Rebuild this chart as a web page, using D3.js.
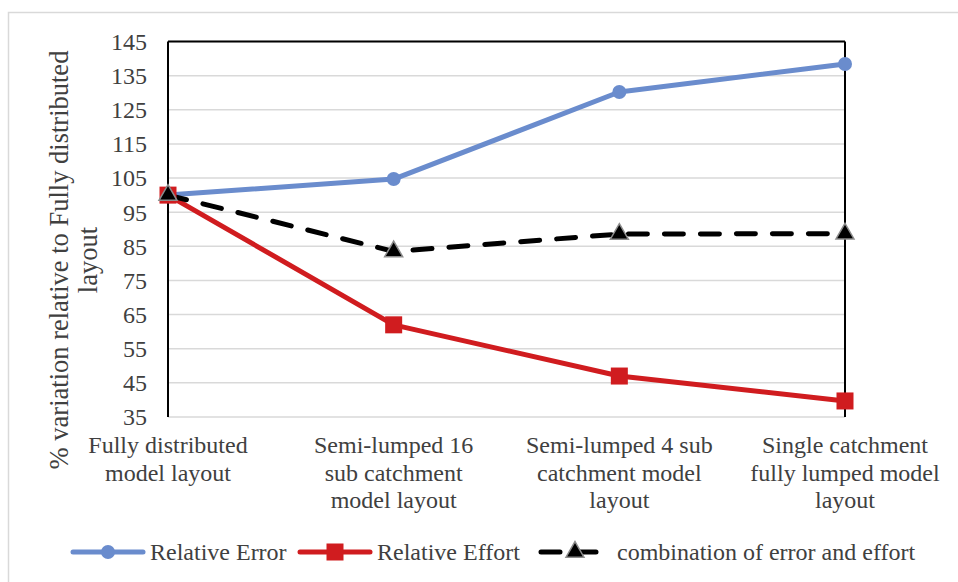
<!DOCTYPE html>
<html>
<head>
<meta charset="utf-8">
<script src="https://cdn.jsdelivr.net/npm/d3@7"></script>
<style>
  body { margin: 0; background: #fff; }
  text { font-family: "Liberation Serif", "Times New Roman", serif; fill: #404040; }
</style>
</head>
<body>
<script>
const categories = [
  "Fully distributed model layout",
  "Semi-lumped 16 sub catchment model layout",
  "Semi-lumped 4 sub catchment model layout",
  "Single catchment fully lumped model layout"
];
// label lines as wrapped in the original
const categoryLines = [
  ["Fully distributed", "model layout"],
  ["Semi-lumped 16", "sub catchment", "model layout"],
  ["Semi-lumped 4 sub", "catchment model", "layout"],
  ["Single catchment", "fully lumped model", "layout"]
];
const relativeError = [100, 104.7, 130.2, 138.4];
const relativeEffort = [100, 62, 47, 39.7];
const combination = [100, 83.5, 88.6, 88.7];
const yTicks = [35, 45, 55, 65, 75, 85, 95, 105, 115, 125, 135, 145];

const width = 958, height = 582;
const svg = d3.select("body").append("svg")
  .attr("width", width).attr("height", height);

// chart frame
svg.append("rect")
  .attr("x", 8.5).attr("y", 12.5).attr("width", 980).attr("height", 600)
  .attr("fill", "none").attr("stroke", "#d9d9d9").attr("stroke-width", 1.5);

const x = d3.scalePoint().domain(categories).range([168, 845]);
const y = d3.scaleLinear().domain([35, 145]).range([417, 41.5]);

// gridlines
svg.append("g")
  .selectAll("line")
  .data(yTicks)
  .enter().append("line")
  .attr("x1", 168).attr("x2", 845)
  .attr("y1", d => y(d)).attr("y2", d => y(d))
  .attr("stroke", "#d9d9d9").attr("stroke-width", 1.5);

// black borders: left axis, top, right
svg.append("line").attr("x1", 168).attr("x2", 168).attr("y1", y(145)).attr("y2", y(35))
  .attr("stroke", "#000").attr("stroke-width", 2);
svg.append("line").attr("x1", 168).attr("x2", 845).attr("y1", y(145)).attr("y2", y(145))
  .attr("stroke", "#000").attr("stroke-width", 2);
svg.append("line").attr("x1", 845).attr("x2", 845).attr("y1", y(145)).attr("y2", y(35))
  .attr("stroke", "#000").attr("stroke-width", 2);

// y tick labels
svg.append("g")
  .selectAll("text")
  .data(yTicks)
  .enter().append("text")
  .attr("x", 147).attr("y", d => y(d))
  .attr("dy", "0.35em")
  .attr("text-anchor", "end")
  .style("font-size", "24px")
  .text(d => d);

// category labels
const catG = svg.append("g");
categories.forEach((c, i) => {
  const t = catG.append("text")
    .attr("x", x(c)).attr("y", 453)
    .attr("text-anchor", "middle")
    .style("font-size", "24px");
  categoryLines[i].forEach((ln, j) => {
    t.append("tspan").attr("x", x(c)).attr("y", 453 + j * 27.5).text(ln);
  });
});

// y axis title
const yt = svg.append("text")
  .attr("transform", "translate(0,260) rotate(-90)")
  .attr("text-anchor", "middle")
  .style("font-size", "26.5px");
yt.append("tspan").attr("x", 0).attr("y", 68).text("% variation relative to Fully distributed");
yt.append("tspan").attr("x", 0).attr("y", 97).text("layout");

const line = d3.line().x((d, i) => x(categories[i])).y(d => y(d));

const blue = "#6a8ccd", red = "#d01c1f";

svg.append("path").datum(relativeError)
  .attr("d", line).attr("fill", "none").attr("stroke", blue)
  .attr("stroke-width", 5).attr("stroke-linejoin", "round");
svg.append("path").datum(relativeEffort)
  .attr("d", line).attr("fill", "none").attr("stroke", red)
  .attr("stroke-width", 5).attr("stroke-linejoin", "round");
svg.append("path").datum(combination)
  .attr("d", line).attr("fill", "none").attr("stroke", "#000")
  .attr("stroke-width", 5).attr("stroke-dasharray", "19,17").attr("stroke-linecap", "round");

// markers
svg.append("g").selectAll("circle")
  .data(relativeError)
  .enter().append("circle")
  .attr("cx", (d, i) => x(categories[i])).attr("cy", d => y(d))
  .attr("r", 7).attr("fill", blue);

svg.append("g").selectAll("rect")
  .data(relativeEffort)
  .enter().append("rect")
  .attr("x", (d, i) => x(categories[i]) - 8.5).attr("y", d => y(d) - 8.5)
  .attr("width", 17).attr("height", 17).attr("fill", red);

const tri = d3.symbol().type(d3.symbolTriangle).size(140);
svg.append("g").selectAll("path")
  .data(combination)
  .enter().append("path")
  .attr("d", tri)
  .attr("transform", (d, i) => `translate(${x(categories[i])},${y(d)})`)
  .attr("fill", "#000").attr("stroke", "#8c8c8c").attr("stroke-width", 1.5);

// legend
const legendY = 552;
const lg = svg.append("g");
lg.append("line").attr("x1", 73).attr("x2", 143).attr("y1", legendY).attr("y2", legendY)
  .attr("stroke", blue).attr("stroke-width", 5).attr("stroke-linecap", "round");
lg.append("circle").attr("cx", 108).attr("cy", legendY).attr("r", 7).attr("fill", blue);
lg.append("text").attr("x", 150).attr("y", legendY).attr("dy", "0.35em")
  .style("font-size", "24px").text("Relative Error");

lg.append("line").attr("x1", 300).attr("x2", 370).attr("y1", legendY).attr("y2", legendY)
  .attr("stroke", red).attr("stroke-width", 5).attr("stroke-linecap", "round");
lg.append("rect").attr("x", 335 - 8.5).attr("y", legendY - 8.5).attr("width", 17).attr("height", 17).attr("fill", red);
lg.append("text").attr("x", 377).attr("y", legendY).attr("dy", "0.35em")
  .style("font-size", "24px").text("Relative Effort");

lg.append("line").attr("x1", 541).attr("x2", 600).attr("y1", legendY).attr("y2", legendY)
  .attr("stroke", "#000").attr("stroke-width", 5).attr("stroke-dasharray", "19,17").attr("stroke-linecap", "round");
lg.append("path").attr("d", tri)
  .attr("transform", `translate(575,${legendY})`)
  .attr("fill", "#000").attr("stroke", "#8c8c8c").attr("stroke-width", 1.5);
lg.append("text").attr("x", 617).attr("y", legendY).attr("dy", "0.35em")
  .style("font-size", "24px").text("combination of error and effort");
</script>
</body>
</html>
